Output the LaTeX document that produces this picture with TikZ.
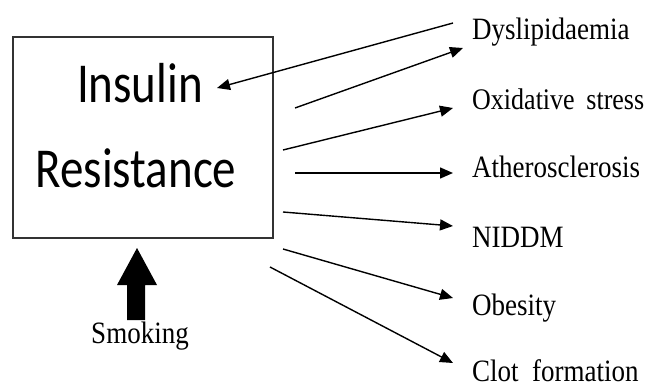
\documentclass[tikz,border=0pt]{standalone}
\usepackage{fontspec}
\setmainfont{Liberation Serif}
\newfontfamily\boxfont{Carlito}
\usetikzlibrary{arrows.meta}
\newcommand{\tallA}[1]{\scalebox{1}[1.15]{#1}}
\newcommand{\tallB}[1]{\scalebox{1}[1.2]{#1}}
\tikzset{
  conn/.style={line width=1.4pt, -{Triangle[length=13pt,width=11pt]}},
  lbl/.style={anchor=base west, inner sep=0pt, font=\fontsize{27}{27}\selectfont},
  bigtxt/.style={anchor=base, inner sep=0pt, font=\boxfont\fontsize{47}{47}\selectfont}
}
\begin{document}
\begin{tikzpicture}[x=1pt,y=-1pt]
\useasboundingbox (0,0) rectangle (650,388);
% box
\node[draw=black!80, line width=1.6pt, minimum width=260pt, minimum height=201pt, inner sep=0pt] (box) at (143,137.5) {};
\node[bigtxt] (ins) at (140,102) {\tallB{Insulin}};
\node[bigtxt] (res) at (136,187) {\tallB{Resistance}};
% labels
\node[lbl] (dys) at (472,39) {\tallA{Dyslipidaemia}};
\node[lbl, font=\fontsize{26}{26}\selectfont] (oxi) at (472,109) {\tallA{Oxidative\hspace{0.45em}stress}};
\node[lbl] (ath) at (472,177) {\tallA{Atherosclerosis}};
\node[lbl] (nid) at (472,247) {\tallA{NIDDM}};
\node[lbl] (obe) at (472,315) {\tallA{Obesity}};
\node[lbl] (clo) at (472,381) {\tallA{Clot\hspace{0.5em}formation}};
\node[lbl, anchor=base] (smk) at (140,343) {\tallA{Smoking}};
% endpoints
\coordinate (d0) at (453,23);  \coordinate (d1) at (217,88);
\coordinate (a0) at (295,108); \coordinate (a1) at (463,48);
\coordinate (b0) at (283,150); \coordinate (b1) at (453,108);
\coordinate (c0) at (295,173); \coordinate (c1) at (453,173);
\coordinate (e0) at (283,212); \coordinate (e1) at (453,226);
\coordinate (f0) at (283,249); \coordinate (f1) at (453,298);
\coordinate (g0) at (270,267); \coordinate (g1) at (453,363);
\draw[conn] (d0) -- (d1);
\draw[conn] (a0) -- (a1);
\draw[conn] (b0) -- (b1);
\draw[conn] (c0) -- (c1);
\draw[conn] (e0) -- (e1);
\draw[conn] (f0) -- (f1);
\draw[conn] (g0) -- (g1);
% big arrow from smoking
\fill[black] (127,320) -- (127,285) -- (117,285) -- (137,248) -- (157,285) -- (145,285) -- (145,320) -- cycle;
\end{tikzpicture}
\end{document}
